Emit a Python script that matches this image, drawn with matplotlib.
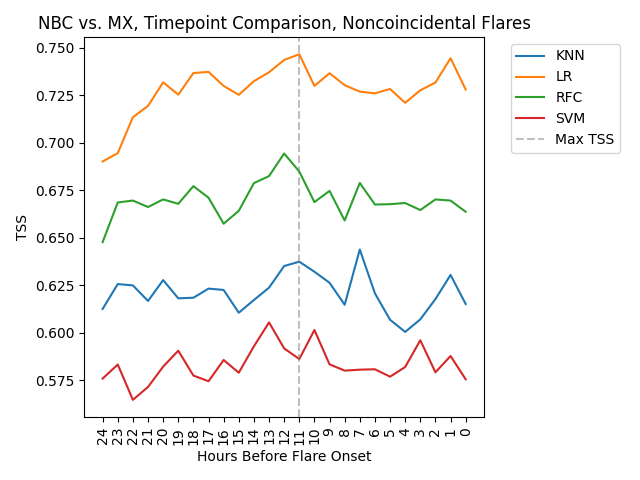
import matplotlib
matplotlib.use("Agg")
import matplotlib.pyplot as plt

hours = [str(h) for h in range(24, -1, -1)]

knn = [0.6125, 0.6256, 0.6249, 0.6167, 0.6277, 0.6181, 0.6184, 0.6232, 0.6225,
       0.6105, 0.6172, 0.6237, 0.6351, 0.6374, 0.6321, 0.6263, 0.6147, 0.6438,
       0.6207, 0.6068, 0.6004, 0.6070, 0.6177, 0.6304, 0.6151]
lr = [0.6902, 0.6946, 0.7135, 0.7195, 0.7319, 0.7254, 0.7368, 0.7374, 0.7300,
      0.7253, 0.7325, 0.7372, 0.7437, 0.7467, 0.7300, 0.7367, 0.7304, 0.7270,
      0.7261, 0.7284, 0.7211, 0.7277, 0.7318, 0.7446, 0.7281]
rfc = [0.6477, 0.6686, 0.6696, 0.6662, 0.6702, 0.6679, 0.6772, 0.6711, 0.6574,
       0.6642, 0.6788, 0.6825, 0.6944, 0.6849, 0.6688, 0.6747, 0.6591, 0.6789,
       0.6675, 0.6677, 0.6683, 0.6646, 0.6702, 0.6696, 0.6637]
svm = [0.5758, 0.5832, 0.5646, 0.5714, 0.5821, 0.5905, 0.5774, 0.5744, 0.5856,
       0.5789, 0.5928, 0.6054, 0.5917, 0.5861, 0.6014, 0.5833, 0.5800, 0.5805,
       0.5807, 0.5768, 0.5819, 0.5960, 0.5791, 0.5877, 0.5754]

series = {"KNN": knn, "LR": lr, "RFC": rfc, "SVM": svm}
max_hour = "11"

fig, ax = plt.subplots(figsize=(6.4, 4.8), dpi=100)
for name, vals in series.items():
    ax.plot(hours, vals, label=name)
ax.axvline(hours.index(max_hour), color="gray", linestyle="--", alpha=0.5, label="Max TSS")

ax.set_title("NBC vs. MX, Timepoint Comparison, Noncoincidental Flares")
ax.set_xlabel("Hours Before Flare Onset")
ax.set_ylabel("TSS")
ax.tick_params(axis="x", rotation=90)
ax.legend(bbox_to_anchor=(1.05, 1), loc="upper left")
fig.subplots_adjust(left=0.132, right=0.756, bottom=0.131, top=0.923)
fig.savefig("out.png")
